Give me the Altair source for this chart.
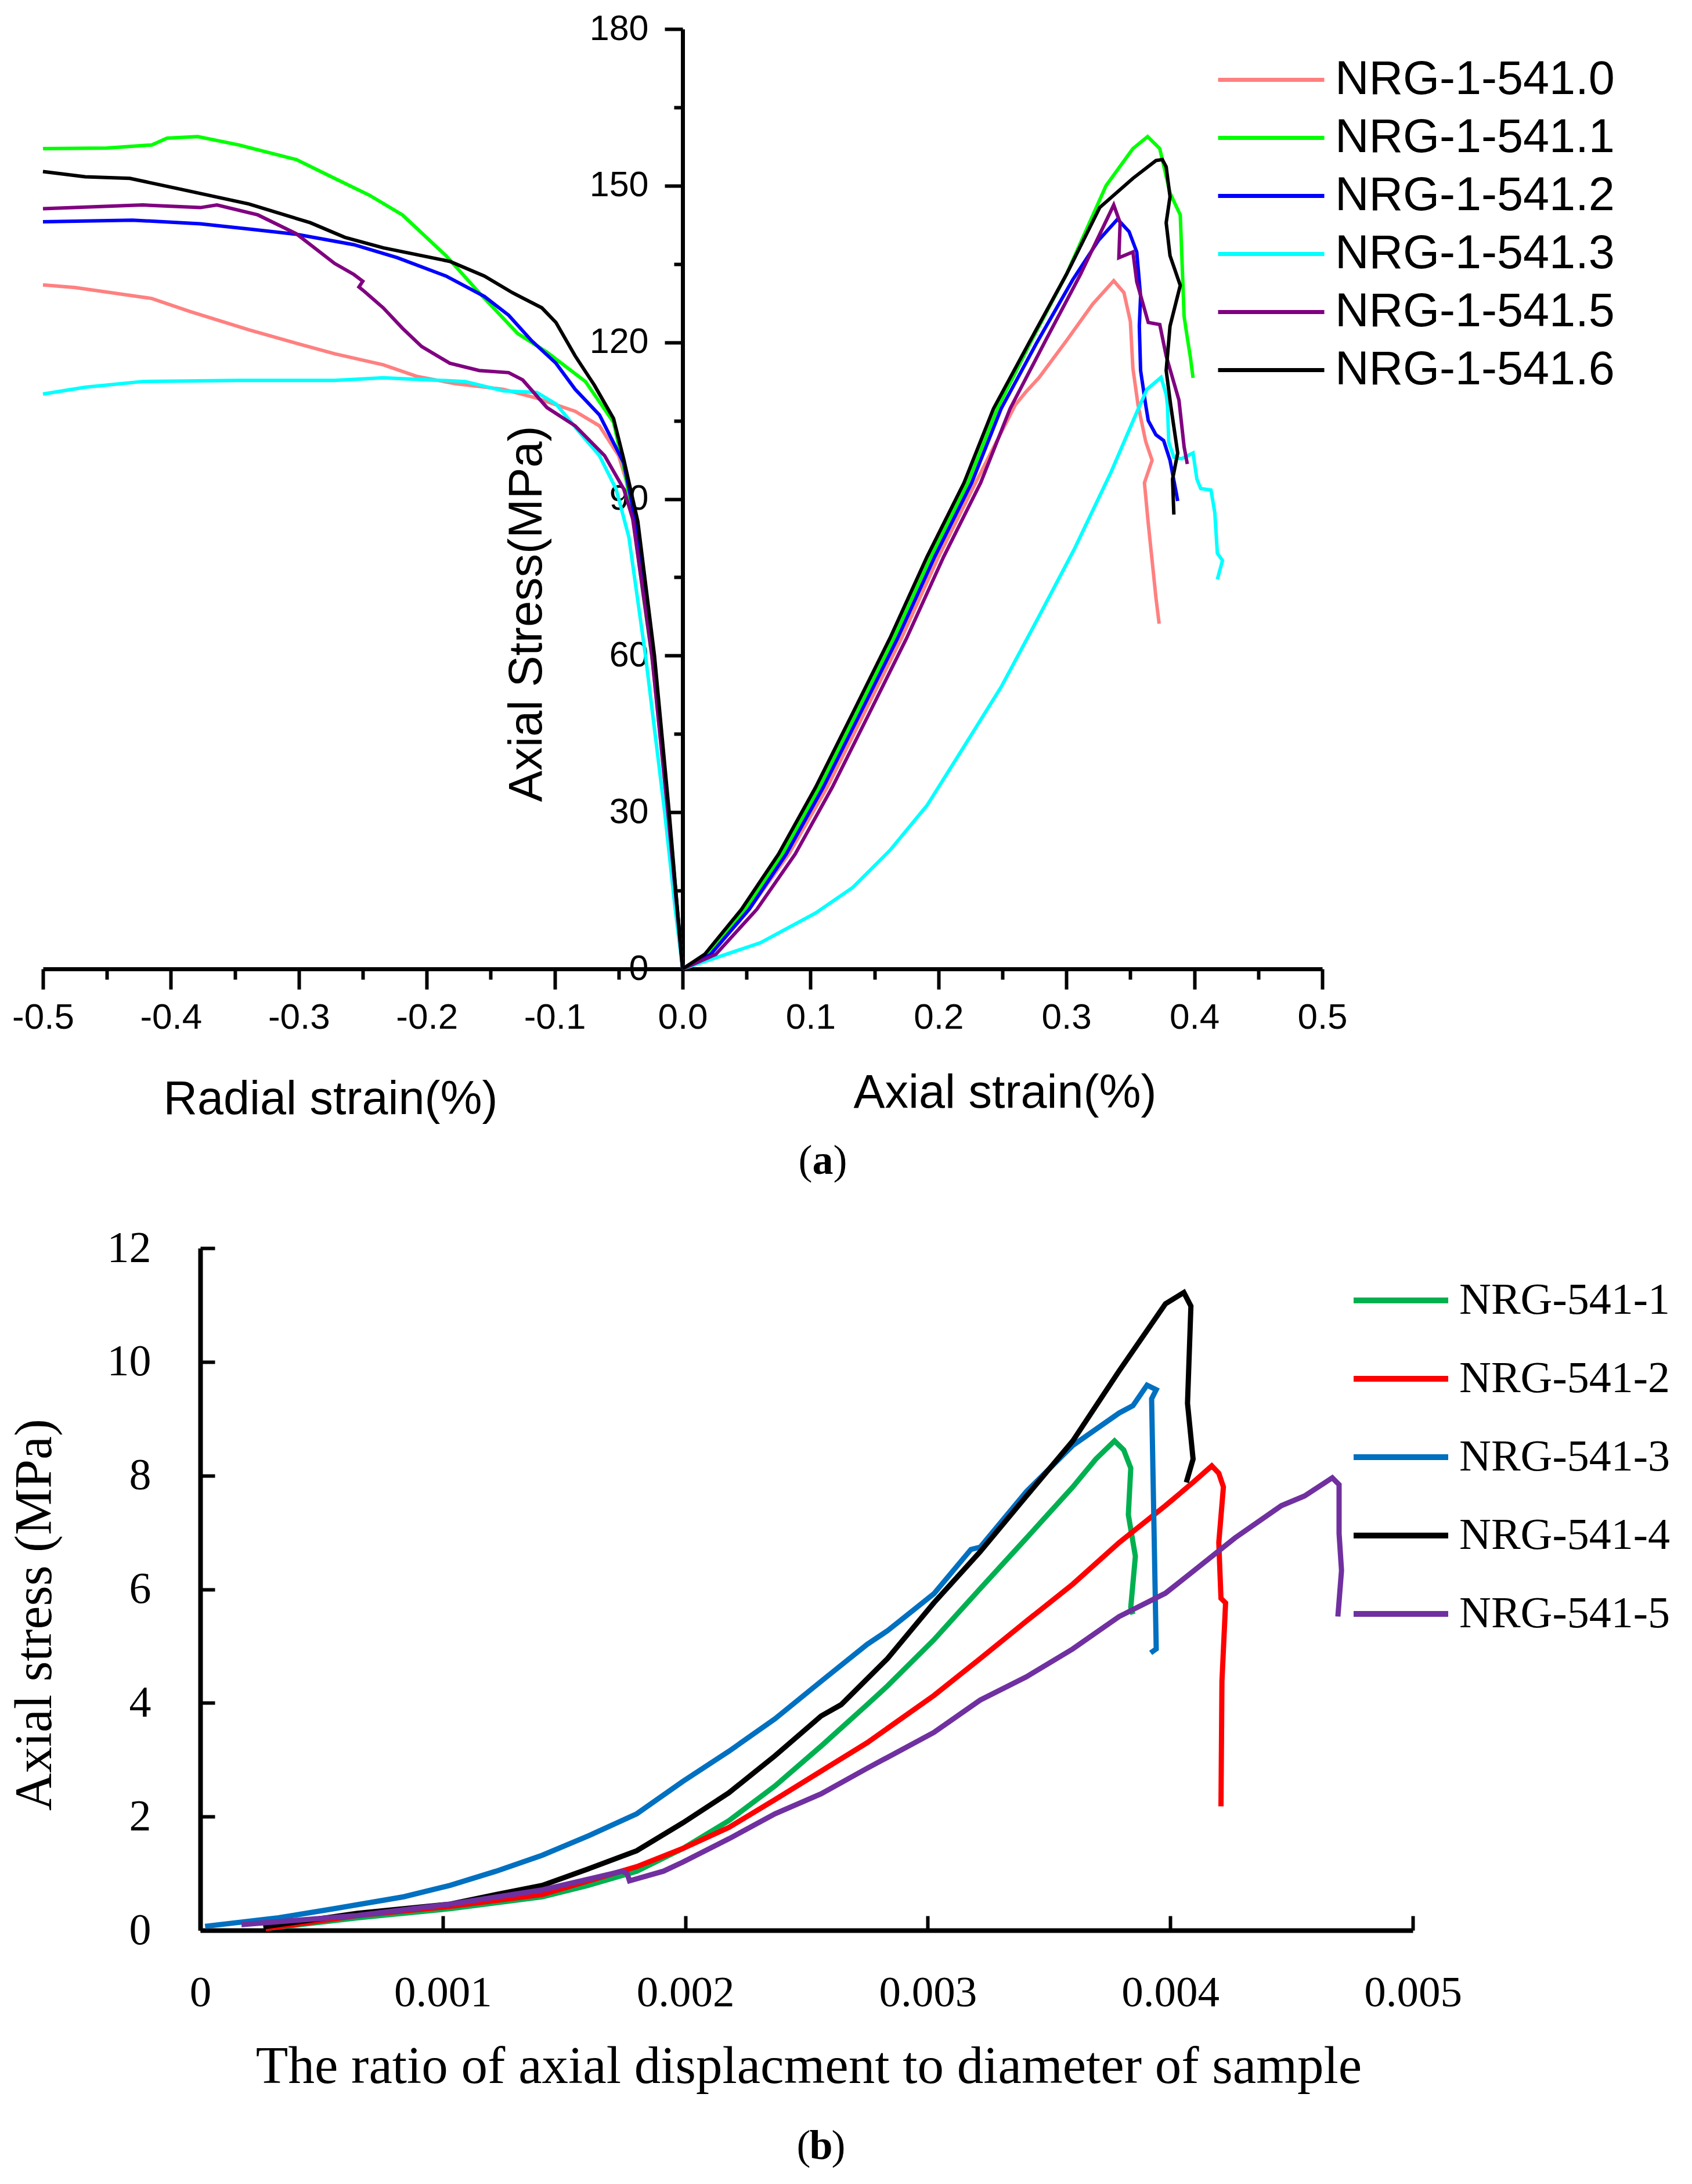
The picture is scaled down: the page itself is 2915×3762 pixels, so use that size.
import altair as alt
import pandas as pd

# ---------------- (a) data ----------------
A_SERIES = ["NRG-1-541.0", "NRG-1-541.1", "NRG-1-541.2", "NRG-1-541.3", "NRG-1-541.5", "NRG-1-541.6"]
A_COLORS = ["#FF8080", "#00FF00", "#0000FF", "#00FFFF", "#800080", "#000000"]

R0_X = [-0.5,-0.475,-0.415,-0.385,-0.339,-0.309,-0.272,-0.234,-0.208,-0.178,-0.14,-0.114,-0.084,-0.065,-0.05,-0.042,-0.036,-0.024,-0.0115,0]
R0_Y = [131,130.5,128.4,125.9,122.4,120.3,117.8,115.7,113.5,112.1,111,109.3,106.8,104,98.3,91.9,84,60,30,0]
A0_X = [0,0.02,0.052,0.083,0.113,0.142,0.171,0.2,0.229,0.26,0.268,0.2785,0.300,0.3205,0.337,0.345,0.350,0.352,0.356,0.362,0.367,0.361,0.364,0.367,0.37,0.3725]
A0_Y = [0,2.8,11.4,22,34.8,49,63.3,78.9,93.1,108,110.4,113.2,120.3,127.3,131.8,129.5,124,115,108,101,97.4,93.1,85.3,78.2,71.1,66.1]

R1_X = [-0.5,-0.45,-0.415,-0.403,-0.379,-0.347,-0.302,-0.272,-0.245,-0.219,-0.185,-0.159,-0.129,-0.106,-0.076,-0.054,-0.045,-0.038,-0.031,-0.023,-0.016,-0.009,-0.004,0]
R1_Y = [157.1,157.2,157.8,159.1,159.4,157.8,155,151.4,148.2,144.4,136.6,129.5,121.7,118.1,112.5,104.7,95,85,72,58,42,25,11,0]
A1_X = [0,0.019,0.049,0.078,0.107,0.136,0.165,0.194,0.223,0.246,0.272,0.300,0.331,0.352,0.3635,0.373,0.381,0.389,0.391,0.392,0.394,0.397,0.399]
A1_Y = [0,2.8,11.4,22,34.8,49,63.3,78.9,93.1,107.3,120,133,150,157.1,159.4,157.1,148.6,144.4,131.6,125,121.7,117,113.2]

R2_X = [-0.5,-0.43,-0.377,-0.339,-0.302,-0.257,-0.223,-0.185,-0.155,-0.136,-0.118,-0.099,-0.084,-0.065,-0.046,-0.037,-0.023,-0.011,0]
R2_Y = [143.1,143.4,142.7,141.7,140.7,138.7,136.2,132.7,128.8,125.2,120.3,116,111,106.1,96.9,86,60,30,0]
A2_X = [0,0.022,0.052,0.081,0.11,0.139,0.168,0.197,0.226,0.249,0.277,0.305,0.325,0.340,0.349,0.355,0.358,0.357,0.358,0.362,0.364,0.37,0.376,0.381,0.386,0.387]
A2_Y = [0,2.8,11.4,22,34.8,49,63.3,78.9,93.1,107.3,120,132,139.5,143.6,141.2,137.3,128.8,123.1,114.6,108,105,102.3,101.2,97.4,91,89.6]

R3_X = [-0.5,-0.467,-0.422,-0.347,-0.272,-0.234,-0.197,-0.17,-0.14,-0.114,-0.099,-0.08,-0.065,-0.052,-0.042,-0.029,-0.014,-0.006,0]
R3_Y = [110.1,111.4,112.5,112.7,112.7,113.2,112.8,112.5,110.7,110.4,108.2,102.6,98.3,91.9,82.7,60,30,12,0]
A3_X = [0,0.0607,0.104,0.133,0.162,0.191,0.22,0.249,0.277,0.306,0.335,0.355,0.363,0.374,0.378,0.379,0.380,0.384,0.39,0.399,0.402,0.405,0.413,0.416,0.418,0.422,0.418]
A3_Y = [0,5,10.7,15.6,22.7,31.3,42.6,54,66.8,80.3,95.2,106.6,111,113.3,110,108,100.9,98,97.7,98.8,93.8,92,91.7,87.4,79.6,78.2,74.6]

R4_X = [-0.5,-0.422,-0.377,-0.364,-0.332,-0.302,-0.272,-0.257,-0.250,-0.253,-0.249,-0.234,-0.219,-0.204,-0.182,-0.159,-0.136,-0.125,-0.106,-0.084,-0.061,-0.046,-0.039,-0.024,-0.0115,0]
R4_Y = [145.6,146.3,145.8,146.3,144.4,140.8,135.1,133,131.7,130.6,129.8,126.6,122.7,119.2,116,114.6,114.2,112.8,107.5,104,98.3,91.9,86.2,60,30,0]
A4_X = [0,0.026,0.058,0.088,0.117,0.146,0.175,0.204,0.233,0.256,0.283,0.311,0.337,0.342,0.341,0.352,0.355,0.364,0.373,0.378,0.388,0.392,0.3945]
A4_Y = [0,2.8,11.4,22,34.8,49,63.3,78.9,93.1,107.3,120,133,146.3,142.9,136.2,137.3,131.6,123.8,123.4,117.4,108.9,100,96.7]

R5_X = [-0.5,-0.467,-0.432,-0.392,-0.339,-0.291,-0.264,-0.234,-0.182,-0.155,-0.133,-0.110,-0.099,-0.084,-0.069,-0.054,-0.046,-0.039,-0.035,-0.022,-0.0105,-0.005,0]
R5_Y = [152.7,151.7,151.4,149.3,146.5,142.9,140.1,138.1,135.5,132.7,129.5,126.6,123.8,117.4,111.8,105.4,97.6,90,85.7,60,30,14,0]
A5_X = [0,0.0173,0.046,0.075,0.104,0.133,0.162,0.191,0.22,0.243,0.271,0.30,0.326,0.352,0.370,0.375,0.378,0.381,0.378,0.381,0.389,0.381,0.378,0.3815,0.387,0.383,0.384]
A5_Y = [0,2.8,11.4,22,34.8,49,63.3,78.9,93.1,107.3,120,133,145.8,151.4,154.8,155,153.6,147.9,142.9,136.6,130.9,123.1,114.6,108,98.8,93.8,87]

A_RADIAL = [(R0_X, R0_Y), (R1_X, R1_Y), (R2_X, R2_Y), (R3_X, R3_Y), (R4_X, R4_Y), (R5_X, R5_Y)]
A_AXIAL = [(A0_X, A0_Y), (A1_X, A1_Y), (A2_X, A2_Y), (A3_X, A3_Y), (A4_X, A4_Y), (A5_X, A5_Y)]

A_XTICKS = [-0.5, -0.4, -0.3, -0.2, -0.1, 0.0, 0.1, 0.2, 0.3, 0.4, 0.5]
A_XMINOR = [-0.45, -0.35, -0.25, -0.15, -0.05, 0.05, 0.15, 0.25, 0.35, 0.45]
A_YTICKS = [0, 30, 60, 90, 120, 150, 180]
A_YMINOR = [15, 45, 75, 105, 135, 165]

# ---------------- (b) data ----------------
B_SERIES = ["NRG-541-1", "NRG-541-2", "NRG-541-3", "NRG-541-4", "NRG-541-5"]
B_COLORS = ["#00B050", "#FF0000", "#0070C0", "#000000", "#7030A0"]

B1_X = [0.00027,0.000648,0.00103,0.00141,0.0016,0.0018,0.00199,0.00218,0.00237,0.00256,0.00275,0.002834,0.003025,0.003216,0.003407,0.003598,0.003693,0.00377,0.003808,0.003837,0.003827,0.003856,0.003837,0.003846]
B1_Y = [0.03,0.22,0.38,0.59,0.79,1.04,1.44,1.93,2.54,3.24,3.97,4.3,5.11,6.01,6.9,7.8,8.29,8.61,8.45,8.13,7.31,6.58,5.68,5.56]
B2_X = [0.00027,0.000648,0.00103,0.00141,0.0018,0.00199,0.00218,0.00237,0.00256,0.00275,0.003025,0.003216,0.003407,0.003598,0.003789,0.00398,0.004094,0.004171,0.0042,0.004219,0.0042,0.004209,0.004228,0.004213,0.004209]
B2_Y = [0.03,0.26,0.42,0.63,1.12,1.44,1.81,2.3,2.8,3.3,4.13,4.78,5.44,6.09,6.82,7.47,7.88,8.17,8.04,7.8,6.82,5.84,5.76,4.38,2.18]
B3_X = [0.00002,0.000322,0.000552,0.000839,0.00103,0.00122,0.00141,0.0016,0.0018,0.00199,0.00218,0.00237,0.00256,0.00275,0.002834,0.003025,0.003178,0.003216,0.003407,0.003598,0.003789,0.003846,0.003904,0.003942,0.003923,0.003942,0.003919]
B3_Y = [0.07,0.22,0.38,0.59,0.79,1.04,1.32,1.66,2.05,2.62,3.15,3.72,4.38,5.03,5.27,5.92,6.7,6.74,7.72,8.53,9.1,9.23,9.59,9.51,9.35,4.95,4.88]
B4_X = [0.00026,0.000648,0.00103,0.00122,0.00141,0.0016,0.0018,0.00199,0.00218,0.00237,0.00256,0.002643,0.002834,0.003025,0.003216,0.003407,0.003598,0.003789,0.00398,0.004056,0.004085,0.004071,0.004094,0.004066]
B4_Y = [0.06,0.3,0.46,0.63,0.79,1.08,1.4,1.89,2.42,3.07,3.77,3.97,4.78,5.76,6.66,7.64,8.61,9.84,11.02,11.22,10.98,9.27,8.29,7.88]
B5_X = [0.00017,0.000648,0.00103,0.00141,0.00174,0.00176,0.00177,0.00191,0.00199,0.00218,0.00237,0.00256,0.00275,0.003025,0.003216,0.003407,0.003598,0.003789,0.00398,0.004075,0.004266,0.004458,0.004553,0.004668,0.004696,0.004696,0.004706,0.004691]
B5_Y = [0.1,0.26,0.46,0.71,1.04,1.0,0.87,1.04,1.2,1.61,2.05,2.4,2.85,3.48,4.05,4.46,4.95,5.52,5.93,6.25,6.9,7.47,7.64,7.96,7.84,6.98,6.33,5.52]
B_CURVES = [(B1_X, B1_Y), (B2_X, B2_Y), (B3_X, B3_Y), (B4_X, B4_Y), (B5_X, B5_Y)]

B_XTICKS = [0, 0.001, 0.002, 0.003, 0.004, 0.005]
B_YTICKS = [0, 2, 4, 6, 8, 10, 12]

# ---------------- tables ----------------
rows = []
for name, (xs, ys) in zip(A_SERIES, A_RADIAL):
    for i, (x, y) in enumerate(zip(xs, ys)):
        rows.append({"series": name, "key": name + "-r", "i": i, "x": x, "y": y})
for name, (xs, ys) in zip(A_SERIES, A_AXIAL):
    for i, (x, y) in enumerate(zip(xs, ys)):
        rows.append({"series": name, "key": name + "-a", "i": i, "x": x, "y": y})
df_a = pd.DataFrame(rows)

rows = []
for name, (xs, ys) in zip(B_SERIES, B_CURVES):
    for i, (x, y) in enumerate(zip(xs, ys)):
        rows.append({"series": name, "key": name, "i": i, "x": x, "y": y})
df_b = pd.DataFrame(rows)

SANS = "Liberation Sans"
SERIF = "Liberation Serif"

# plot-area geometry (pixels)
W = 2089
HA = 1619
HB = 1175
A_RANGE = [-271, 1933]
A_YAXIS_OFFSET = -831

xs_a = alt.Scale(domain=[-0.5, 0.5], range=A_RANGE, nice=False, zero=False)
ys_a = alt.Scale(domain=[0, 180], nice=False, zero=False)
xs_b = alt.Scale(domain=[0, 0.005], nice=False, zero=False)
ys_b = alt.Scale(domain=[0, 12], nice=False, zero=False)

common_axis = dict(grid=False, domainColor="black", tickColor="black", labelColor="black",
                   titleColor="black", titleFontWeight="normal")

CAP_SIZE = 72


def caption_layers(base, xscale, yscale, text, cx, cy):
    """'(x)' caption: regular parentheses, bold letter, each as an axis title."""
    parts = [("(", cx - 30, "normal"), (text, cx, "bold"), (")", cx + 30, "normal")]
    layers = []
    for t, tx, wt in parts:
        ax = alt.Axis(orient="bottom", labels=False, domain=False, ticks=False, grid=False,
                      title=t, titleFont=SERIF, titleFontSize=CAP_SIZE, titleFontWeight=wt,
                      titleColor="black", titleX=tx, titleY=cy, titleBaseline="alphabetic",
                      titleAlign="center")
        layers.append(base.mark_line(strokeOpacity=0).encode(
            x=alt.X("x:Q", scale=xscale, axis=ax),
            y=alt.Y("y:Q", scale=yscale, axis=None),
            detail="key:N", order="i:Q"))
    return layers


a_x_major = alt.Axis(values=A_XTICKS, orient="bottom",
                     labelExpr="(datum.value < -0.001 ? '-' : '') + format(abs(datum.value), '.1f')",
                     labelFont=SANS, labelFontSize=62, labelPadding=18, labelFlush=False, labelOverlap=False,
                     tickSize=35, tickWidth=6, domainWidth=7,
                     title="Radial strain(%)", titleFont=SANS, titleFontSize=81,
                     titleX=224, titleY=249, titleBaseline="alphabetic", titleAlign="center", **common_axis)
a_y_major = alt.Axis(values=A_YTICKS, orient="left", offset=A_YAXIS_OFFSET,
                     labelFont=SANS, labelFontSize=61, labelPadding=28, labelOverlap=False,
                     tickSize=31, tickWidth=6, domainWidth=7,
                     title="Axial Stress(MPa)", titleFont=SANS, titleFontSize=81, titleAngle=270,
                     titleX=-244, titleY=1007, titleBaseline="alphabetic", titleAlign="center", **common_axis)
a_x_minor = alt.Axis(values=A_XMINOR, orient="bottom", labels=False, domain=False,
                     tickSize=18, tickWidth=6,
                     title="Axial strain(%)", titleFont=SANS, titleFontSize=81,
                     titleX=1386, titleY=238, titleBaseline="alphabetic", titleAlign="center", **common_axis)
a_y_minor = alt.Axis(values=A_YMINOR, orient="left", offset=A_YAXIS_OFFSET, labels=False, domain=False,
                     tickSize=15, tickWidth=6, title=None, **common_axis)

# legend line symbols: unit path scaled by sqrt(size)/2 = 20 px
LEG_R = 20
A_LEG_LEN = 183
B_LEG_LEN = 163
A_SYMBOL = "M-1,0H%.3f" % (A_LEG_LEN / LEG_R - 1)
B_SYMBOL = "M-1,0H%.3f" % (B_LEG_LEN / LEG_R - 1)

base_a = alt.Chart(df_a)
lines_a = base_a.mark_line(strokeWidth=6).encode(
    x=alt.X("x:Q", scale=xs_a, axis=a_x_major),
    y=alt.Y("y:Q", scale=ys_a, axis=a_y_major),
    color=alt.Color("series:N", scale=alt.Scale(domain=A_SERIES, range=A_COLORS), sort=A_SERIES,
                    legend=alt.Legend(title=None, orient="none", legendX=1733, legendY=47,
                                      symbolType=A_SYMBOL, symbolSize=(2 * LEG_R) ** 2, symbolStrokeWidth=7,
                                      labelFont=SANS, labelFontSize=81, labelColor="black", labelLimit=0,
                                      rowPadding=18, labelOffset=141, padding=0)),
    detail="key:N",
    order="i:Q",
)
minor_a = base_a.mark_line(strokeOpacity=0).encode(
    x=alt.X("x:Q", scale=xs_a, axis=a_x_minor),
    y=alt.Y("y:Q", scale=ys_a, axis=a_y_minor),
    detail="key:N", order="i:Q",
)
chart_a = alt.layer(lines_a, minor_a, *caption_layers(base_a, xs_a, ys_a, "a", 1072, 352)).resolve_axis(
    x="independent", y="independent").properties(width=W, height=HA)

# ---------------- (b) chart ----------------
b_x = alt.Axis(values=B_XTICKS, orient="bottom",
               labelExpr="datum.value == 0 ? '0' : format(datum.value, '.3f')",
               labelFont=SERIF, labelFontSize=75, labelPadding=96, labelFlush=False, labelOverlap=False,
               tickSize=alt.ExprRef(expr="-25"), tickWidth=6, domainWidth=8,
               title="The ratio of axial displacment to diameter of sample", titleFont=SERIF, titleFontSize=91,
               titleX=1048, titleY=262, titleBaseline="alphabetic", titleAlign="center", **common_axis)
b_y = alt.Axis(values=B_YTICKS, orient="left",
               labelFont=SERIF, labelFontSize=76, labelPadding=110, labelOverlap=False,
               tickSize=alt.ExprRef(expr="-25"), tickWidth=6, domainWidth=8,
               title="Axial stress (MPa)", titleFont=SERIF, titleFontSize=90, titleAngle=270,
               titleX=-258, titleY=631, titleBaseline="alphabetic", titleAlign="center", **common_axis)

base_b = alt.Chart(df_b)
lines_b = base_b.mark_line(strokeWidth=9).encode(
    x=alt.X("x:Q", scale=xs_b, axis=b_x),
    y=alt.Y("y:Q", scale=ys_b, axis=b_y),
    color=alt.Color("series:N", scale=alt.Scale(domain=B_SERIES, range=B_COLORS), sort=B_SERIES,
                    legend=alt.Legend(title=None, orient="none", legendX=1969, legendY=52,
                                      symbolType=B_SYMBOL, symbolSize=(2 * LEG_R) ** 2, symbolStrokeWidth=10,
                                      labelFont=SERIF, labelFontSize=76, labelColor="black", labelLimit=0,
                                      rowPadding=59, labelOffset=124, padding=0)),
    order="i:Q",
)
chart_b = alt.layer(lines_b, *caption_layers(base_b, xs_b, ys_b, "b", 1069, 393)).resolve_axis(
    x="independent", y="independent").properties(width=W, height=HB)

chart = alt.vconcat(chart_a, chart_b, spacing=77).resolve_scale(color="independent").configure_view(
    strokeWidth=0).properties(padding={"left": 7, "top": 11, "right": 0, "bottom": 5})

chart.save("out.html", embed_options={"renderer": "svg", "actions": False})
